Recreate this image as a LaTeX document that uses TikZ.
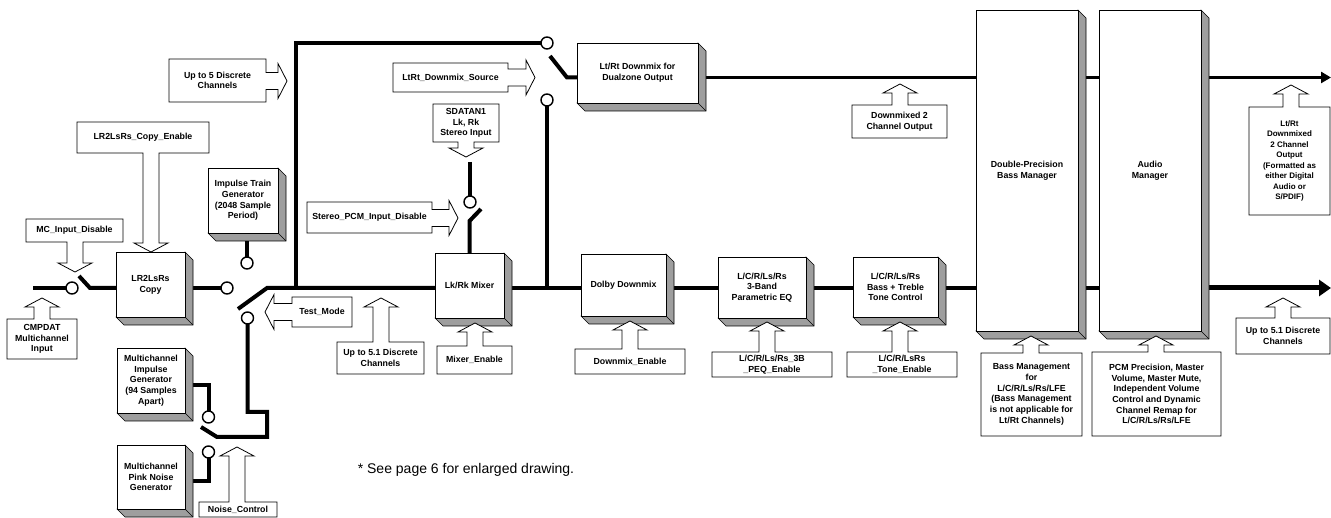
\documentclass[tikz,border=0pt]{standalone}
\usepackage{fontspec}
\setmainfont{Liberation Sans}
\usetikzlibrary{arrows.meta,backgrounds}
\newcommand\lab{\fontsize{8.8}{10.7}\selectfont\bfseries}
\newcommand\labs{\fontsize{8}{10.5}\selectfont\bfseries}
% 3D block: name, x1, y1, x2, y2, text
\newcommand\tdbox[6]{%
  \pgfmathsetmacro\tdw{#4-#2}\pgfmathsetmacro\tdh{#5-#3}%
  \filldraw[shade3d] (#4,#3) -- ({#4+8},{#3+8}) -- ({#4+8},{#5+8}) -- ({#2+8},{#5+8}) -- (#2,#5) -- cycle;
  \draw[shade3d] (#4,#5) -- ({#4+8},{#5+8});
  \node[blk, minimum width=\tdw pt, minimum height=\tdh pt] (#1) at ({(#2+#4)/2},{(#3+#5)/2}) {#6};
}
% callouts: x1, x2, ytop, ybot, arrow centre, tip
\newcommand\upcall[6]{%
  \draw[callout] (#1,#3) -- ({#5-8},#3) -- ({#5-8},{#6+9}) -- ({#5-17},{#6+9}) -- (#5,#6) -- ({#5+17},{#6+9}) -- ({#5+8},{#6+9}) -- ({#5+8},#3) -- (#2,#3) -- (#2,#4) -- (#1,#4) -- cycle;}
\newcommand\downcall[6]{%
  \draw[callout] (#1,#3) -- (#2,#3) -- (#2,#4) -- ({#5+8},#4) -- ({#5+8},{#6-9}) -- ({#5+17},{#6-9}) -- (#5,#6) -- ({#5-17},{#6-9}) -- ({#5-8},{#6-9}) -- ({#5-8},#4) -- (#1,#4) -- cycle;}
\newcommand\rcall[6]{%
  \draw[callout] (#1,#3) -- (#2,#3) -- (#2,{#5-8.5}) -- ({#6-9},{#5-8.5}) -- ({#6-9},{#5-17.5}) -- (#6,#5) -- ({#6-9},{#5+17.5}) -- ({#6-9},{#5+8.5}) -- (#2,{#5+8.5}) -- (#2,#4) -- (#1,#4) -- cycle;}
\newcommand\lcall[6]{%
  \draw[callout] (#2,#3) -- (#1,#3) -- (#1,{#5-8.5}) -- ({#6+9},{#5-8.5}) -- ({#6+9},{#5-17.5}) -- (#6,#5) -- ({#6+9},{#5+17.5}) -- ({#6+9},{#5+8.5}) -- (#1,{#5+8.5}) -- (#1,#4) -- (#2,#4) -- cycle;}
\begin{document}
\begin{tikzpicture}[x=1pt,y=-1pt,
  blk/.style={draw, fill=white, line width=0.8pt, inner sep=0pt, outer sep=0pt, align=center, font=\lab},
  shade3d/.style={fill=black!38, draw=black, line width=0.6pt, line join=miter},
  sw/.style={circle, draw, fill=white, line width=1.4pt, minimum size=12pt, inner sep=0pt, outer sep=0pt},
  bus/.style={line width=4pt, line join=miter},
  busu/.style={line width=3.4pt},
  callout/.style={draw, fill=white, line width=0.8pt, line join=miter},
  txt/.style={align=center, font=\lab, inner sep=0pt},
]
\useasboundingbox (0,0) rectangle (1331,518);

% ---------- blocks ----------
\tdbox{copy}{116}{252}{185}{317}{LR2LsRs\\Copy}
\tdbox{itg}{208}{168}{278}{233}{Impulse Train\\Generator\\(2048 Sample\\Period)}
\tdbox{mig}{117}{348}{185}{413}{Multichannel\\Impulse\\Generator\\(94 Samples\\Apart)}
\tdbox{png}{117}{445}{185}{509}{Multichannel\\Pink Noise\\Generator}
\tdbox{mixer}{435}{253}{504}{318}{Lk/Rk Mixer}
\tdbox{ltrt}{577}{43}{698}{103}{Lt/Rt Downmix for\\Dualzone Output}
\tdbox{dolby}{581}{254}{666}{316}{Dolby Downmix}
\tdbox{peq}{718}{257}{806}{318}{L/C/R/Ls/Rs\\3-Band\\Parametric EQ}
\tdbox{tone}{853}{257}{938}{317}{L/C/R/Ls/Rs\\Bass + Treble\\Tone Control}
\tdbox{bass}{976}{10}{1078}{331}{Double-Precision\\Bass Manager}
\tdbox{audio}{1099}{10}{1201}{331}{Audio\\Manager}

% ---------- switch contacts ----------
\node[sw] (s1) at (72,288) {};
\node[sw] (s2) at (227,288) {};
\node[sw] (s3) at (247,263) {};
\node[sw] (s4) at (247.5,318) {};
\node[sw] (s5) at (208.5,417) {};
\node[sw] (s6) at (208.5,452) {};
\node[sw] (s7) at (470,202) {};
\node[sw] (sA) at (547,43) {};
\node[sw] (sB) at (547,100) {};

% ---------- coordinates ----------
\coordinate (my) at (0,288);
\coordinate (uy) at (0,77.5);
\coordinate (in) at (33,288);
\coordinate (lv1a) at (79,276);
\coordinate (lv1b) at (90,288);
\coordinate (tp) at (267,288);
\coordinate (tl) at (238,309);
\coordinate (tc) at (296,43);
\coordinate (l1) at (247.5,412);
\coordinate (l2) at (267,412);
\coordinate (l3) at (267,437);
\coordinate (l4) at (217,437);
\coordinate (l5) at (201,427);
\coordinate (m1) at (208.5,385);
\coordinate (p1) at (208.5,481);
\coordinate (sd) at (470,162);
\coordinate (st1) at (481,209);
\coordinate (st2) at (469.5,221);
\coordinate (u1) at (550,56);
\coordinate (u2) at (567,77.5);
\coordinate (outU) at (1331,77.5);
\coordinate (outL) at (1331,288);

% ---------- connectors ----------
\begin{scope}[on background layer]
\draw[bus] (in) -- (s1);
\draw[bus] (lv1a) -- (lv1b) -- (lv1b -| copy.west);
\draw[bus] (s2 -| copy.east) -- (s2);
\draw[bus] (s3 |- itg.south) -- (s3);
\draw[bus] (tl) -- (tp) -- (tp -| mixer.west);
\draw[bus] (tc |- my) -- (tc) -- (sA);
\draw[bus] (s4) -- (l1) -- (l2) -- (l3) -- (l4) -- (l5);
\draw[bus] (m1 -| mig.east) -- (m1) -- (s5);
\draw[bus] (s6) -- (p1) -- (p1 -| png.east);
\draw[bus] (sd) -- (s7);
\draw[bus] (st1) -- (st2) -- (mixer.north);
\draw[bus] (mixer.east |- my) -- (dolby.west |- my);
\draw[bus] (sB) -- (sB |- my);
\draw[bus] (u1) -- (u2) -- (u2 -| ltrt.west);
\draw[busu] (ltrt.east |- uy) -- (bass.west |- uy);
\draw[busu] (bass.east |- uy) -- (audio.west |- uy);
\draw[busu, -{Triangle[length=10pt,width=11pt]}] (audio.east |- uy) -- (outU);
\draw[bus] (dolby.east |- my) -- (peq.west |- my);
\draw[bus] (peq.east |- my) -- (tone.west |- my);
\draw[bus] (tone.east |- my) -- (bass.west |- my);
\draw[bus] (bass.east |- my) -- (audio.west |- my);
\draw[line width=5pt, -{Triangle[length=12pt,width=16pt]}] (audio.east |- my) -- (outL);
\end{scope}

% ---------- callouts ----------
\downcall{26}{123}{219}{242}{75}{272}
\node[txt] (tmc) at (74.5,230.5) {MC\_Input\_Disable};
\upcall{7}{77}{319}{359}{42}{298}
\node[txt] (tcmp) at (42,339) {CMPDAT\\Multichannel\\Input};
\downcall{77}{209}{122}{153}{151}{252}
\node[txt] (tcopy) at (143,137.5) {LR2LsRs\_Copy\_Enable};
\rcall{169}{266}{59}{102}{81}{287}
\node[txt] (tup5) at (217.5,80.5) {Up to 5 Discrete\\Channels};
\rcall{393}{508}{63}{92}{77.5}{535}
\node[txt] (tsrc) at (450.5,77.5) {LtRt\_Downmix\_Source};
\downcall{433}{499}{104}{142}{466}{157}
\node[txt] (tsd) at (466,123) {SDATAN1\\Lk, Rk\\Stereo Input};
\rcall{307}{432}{202}{233}{218}{458}
\node[txt] (tst) at (369.5,217.5) {Stereo\_PCM\_Input\_Disable};
\lcall{292}{352}{297}{327}{312}{265}
\node[txt] (ttm) at (322,312) {Test\_Mode};
\upcall{337}{424}{342}{374}{381}{298}
\node[txt] (tup51) at (380.5,358) {Up to 5.1 Discrete\\Channels};
\upcall{437}{512}{346}{374}{475}{323}
\node[txt] (tmix) at (474.5,360) {Mixer\_Enable};
\upcall{575}{685}{349}{374}{630}{321}
\node[txt] (tdm) at (630,361.5) {Downmix\_Enable};
\upcall{712}{832}{352}{377}{767}{322}
\node[txt] (tpeq) at (772,364.5) {L/C/R/Ls/Rs\_3B\\\_PEQ\_Enable};
\upcall{847}{957}{352}{377}{900}{322}
\node[txt] (ttone) at (902,364.5) {L/C/R/LsRs\\\_Tone\_Enable};
\upcall{852}{947}{105}{138}{900}{84}
\node[txt] (tdm2) at (899.5,121.5) {Downmixed 2\\Channel Output};
\upcall{1249}{1330}{107}{215}{1291}{85}
\node[txt, font=\labs] (tltrt) at (1289.5,161) {Lt/Rt\\Downmixed\\2 Channel\\Output\\(Formatted as\\either Digital\\Audio or\\S/PDIF)};
\upcall{1236}{1330}{318}{354}{1283}{298}
\node[txt] (tup51r) at (1283,336) {Up to 5.1 Discrete\\Channels};
\upcall{981}{1082}{353}{436}{1031}{336}
\node[txt] (tbm) at (1031.5,394.5) {Bass Management\\for\\L/C/R/Ls/Rs/LFE\\(Bass Management\\is not applicable for\\Lt/Rt Channels)};
\upcall{1092}{1221}{352}{436}{1156}{336}
\node[txt] (tpcm) at (1156.5,394) {PCM Precision, Master\\Volume, Master Mute,\\Independent Volume\\Control and Dynamic\\Channel Remap for\\L/C/R/Ls/Rs/LFE};
\upcall{199}{277}{502}{517}{237}{447}
\node[txt] (tnc) at (238,509.5) {Noise\_Control};

% ---------- footnote ----------
\node[inner sep=0pt, font=\fontsize{14}{16}\selectfont] (note) at (466,470) {* See page 6 for enlarged drawing.};
\end{tikzpicture}
\end{document}
